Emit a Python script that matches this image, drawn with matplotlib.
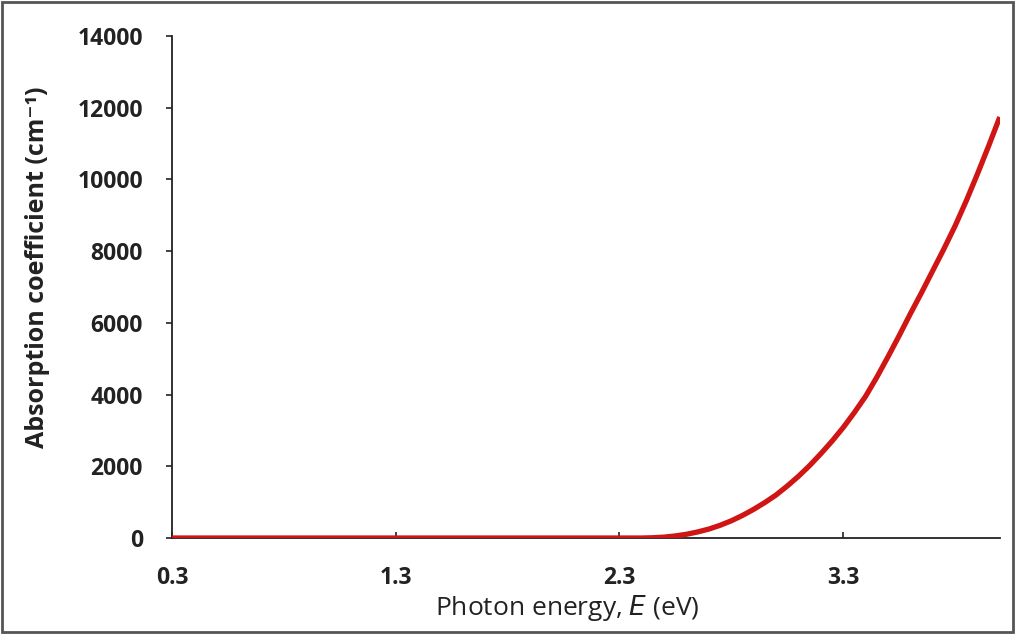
import matplotlib.pyplot as plt
from matplotlib.patches import Rectangle

# photon energy (eV) and absorption coefficient (cm^-1)
energy = [0.3, 1.0, 1.5, 2.0, 2.3, 2.4, 2.45, 2.5, 2.55, 2.6, 2.65, 2.7, 2.75,
          2.8, 2.85, 2.9, 2.95, 3.0, 3.05, 3.1, 3.15, 3.2, 3.25, 3.3, 3.35,
          3.4, 3.45, 3.5, 3.55, 3.6, 3.65, 3.7, 3.75, 3.8, 3.85, 3.9, 3.95, 4.0]
alpha = [0, 0, 0, 0, 0, 0, 8, 25, 58, 105, 170, 250, 355,
         480, 630, 800, 990, 1200, 1450, 1720, 2020, 2350, 2700, 3080, 3500,
         3950, 4480, 5050, 5640, 6250, 6840, 7450, 8060, 8700, 9400, 10150, 10930, 11740]

xticks = [0.3, 1.3, 2.3, 3.3]
yticks = list(range(0, 14001, 2000))

plt.rcParams['font.family'] = ['Open Sans', 'DejaVu Sans']

fig = plt.figure(figsize=(10.15, 6.34), dpi=100)
ax = fig.add_axes([0.1695, 0.1514, 0.8155, 0.7918])

ax.plot(energy, alpha, color='#d01515', lw=3.8, solid_capstyle='butt', zorder=3)

ax.set_xlim(0.3, 4.0)
ax.set_ylim(0, 14000)
ax.set_xticks(xticks)
ax.set_xticklabels([f'{v:.1f}' for v in xticks])
ax.set_yticks(yticks)
ax.set_yticklabels([str(v) for v in yticks])

ax.spines['top'].set_visible(False)
ax.spines['right'].set_visible(False)
for s in ('left', 'bottom'):
    ax.spines[s].set_linewidth(1.3)
    ax.spines[s].set_color('#222222')

ax.tick_params(axis='x', direction='in', length=4.5, width=1.2, pad=20,
               labelsize=16.5, colors='#222222')
ax.tick_params(axis='y', direction='out', length=4.5, width=1.2, pad=16.5,
               labelsize=16.5, colors='#222222')
for lab in ax.get_xticklabels() + ax.get_yticklabels():
    lab.set_fontweight('bold')

ax.set_ylabel('Absorption coefficient (cm⁻¹)', fontsize=18,
              fontweight='bold', color='#222222')
ax.yaxis.set_label_coords(-0.163, 0.54)
ax.set_xlabel('Photon energy, $\\mathit{E}$ (eV)', fontsize=19, color='#222222')
ax.xaxis.set_label_coords(0.477, -0.139)
ax.xaxis.label.set_va('center')
ax.yaxis.label.set_va('center')

# outer frame around the whole chart
fig.patches.append(Rectangle((0.002, 0.003), 0.996, 0.994, transform=fig.transFigure,
                             fill=False, edgecolor='#555555', lw=2))

fig.savefig('out.png', dpi=100)
